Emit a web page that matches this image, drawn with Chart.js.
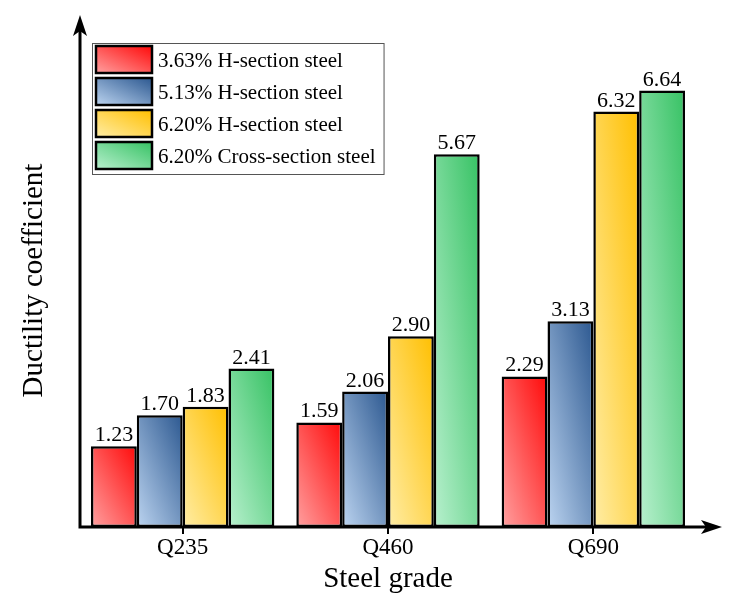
<!DOCTYPE html>
<html>
<head>
<meta charset="utf-8">
<script src="https://cdn.jsdelivr.net/npm/chart.js@4"></script>
<style>
  html, body { margin: 0; padding: 0; background: #fff; }
  #wrap { width: 734px; height: 608px; }
</style>
</head>
<body>
<div id="wrap"><canvas id="chart" width="734" height="608"></canvas></div>
<script>
const grades = ['Q235', 'Q460', 'Q690'];
const seriesNames = ['3.63% H-section steel', '5.13% H-section steel', '6.20% H-section steel', '6.20% Cross-section steel'];
const h363 = [1.23, 1.59, 2.29];
const h513 = [1.70, 2.06, 3.13];
const h620 = [1.83, 2.90, 6.32];
const cross620 = [2.41, 5.67, 6.64];

// light (bottom-left) -> saturated (top-right)
const fills = [
  ['#ffa0a0', '#ff0a0a'],
  ['#bcd4f0', '#2c5890'],
  ['#ffeda6', '#ffbf00'],
  ['#b8f0ce', '#37c264']
];

const serif = 'Liberation Serif';

// gradient in the box's own normalised space: corners bottom-left -> top-right
function boxGradient(ctx, x0, y0, w, h, pair) {
  const k = 2 * w * h / (w * w + h * h);
  const g = ctx.createLinearGradient(x0, y0 + h, x0 + h * k, y0 + h - w * k);
  g.addColorStop(0, pair[0]);
  g.addColorStop(1, pair[1]);
  return g;
}

const gradientBars = {
  id: 'gradientBars',
  beforeDatasetsDraw(chart) {
    const ctx = chart.ctx;
    chart.data.datasets.forEach((ds, i) => {
      chart.getDatasetMeta(i).data.forEach(bar => {
        const p = bar.getProps(['x', 'y', 'base', 'width'], true);
        bar.options.backgroundColor = boxGradient(ctx, p.x - p.width / 2, p.y, p.width, p.base - p.y, fills[i]);
      });
    });
  },
  afterDatasetsDraw(chart) {
    const ctx = chart.ctx;
    const area = chart.chartArea;
    ctx.save();
    // value labels
    ctx.fillStyle = '#000';
    ctx.font = '22px "' + serif + '"';
    ctx.textAlign = 'center';
    ctx.textBaseline = 'alphabetic';
    chart.data.datasets.forEach((ds, i) => {
      chart.getDatasetMeta(i).data.forEach((bar, j) => {
        ctx.fillText(ds.data[j].toFixed(2), bar.x, bar.y - 5);
      });
    });

    // axes with arrows
    const ax = area.left, ay = area.bottom;
    ctx.strokeStyle = '#000';
    ctx.fillStyle = '#000';
    ctx.lineWidth = 3;
    ctx.beginPath();
    ctx.moveTo(ax, ay + 1.5);
    ctx.lineTo(ax, 30);
    ctx.moveTo(ax - 1.5, ay);
    ctx.lineTo(706, ay);
    ctx.stroke();

    ctx.beginPath();
    ctx.moveTo(ax, 15);
    ctx.lineTo(ax + 7, 36);
    ctx.lineTo(ax, 31);
    ctx.lineTo(ax - 7, 36);
    ctx.closePath();
    ctx.fill();

    ctx.beginPath();
    ctx.moveTo(722, ay);
    ctx.lineTo(701, ay - 7);
    ctx.lineTo(706, ay);
    ctx.lineTo(701, ay + 7);
    ctx.closePath();
    ctx.fill();

    // category ticks
    const xs = chart.scales.x;
    ctx.lineWidth = 2;
    ctx.beginPath();
    grades.forEach((g, j) => {
      const px = Math.round(xs.getPixelForValue(j));
      ctx.moveTo(px, ay);
      ctx.lineTo(px, ay + 7);
    });
    ctx.stroke();

    // legend box
    const left = 92, top = 43, rowH = 32;
    ctx.font = '21px "' + serif + '"';
    ctx.textAlign = 'left';
    ctx.textBaseline = 'middle';
    let maxW = 0;
    chart.data.datasets.forEach(ds => { maxW = Math.max(maxW, ctx.measureText(ds.label).width); });
    const textX = 158;
    ctx.fillStyle = '#fff';
    ctx.fillRect(left, top, textX + maxW + 8 - left, rowH * 4 + 3);
    ctx.strokeStyle = '#555';
    ctx.lineWidth = 1;
    ctx.strokeRect(left + 0.5, top + 0.5, textX + maxW + 8 - left, rowH * 4 + 3);
    chart.data.datasets.forEach((ds, i) => {
      const sy = top + 3 + i * rowH;
      ctx.fillStyle = boxGradient(ctx, 96, sy, 56, 27, fills[i]);
      ctx.fillRect(96, sy, 56, 27);
      ctx.strokeStyle = '#000';
      ctx.lineWidth = 2.5;
      ctx.strokeRect(96, sy, 56, 27);
      ctx.fillStyle = '#000';
      ctx.fillText(ds.label, textX, sy + 15);
    });
    ctx.restore();
  }
};

const barStyle = {
  backgroundColor: () => '#cccccc',
  borderColor: '#000',
  borderWidth: 2.5,
  borderSkipped: false,
  categoryPercentage: 0.893,
  barPercentage: 1.0
};

new Chart(document.getElementById('chart'), {
  type: 'bar',
  data: {
    labels: grades,
    datasets: [
      { label: seriesNames[0], data: h363, ...barStyle },
      { label: seriesNames[1], data: h513, ...barStyle },
      { label: seriesNames[2], data: h620, ...barStyle },
      { label: seriesNames[3], data: cross620, ...barStyle }
    ]
  },
  options: {
    responsive: false,
    animation: false,
    layout: { padding: { top: 34, right: 38, left: 0, bottom: 0 } },
    plugins: {
      legend: { display: false },
      tooltip: { enabled: false }
    },
    scales: {
      x: {
        grid: { display: false, drawTicks: false },
        border: { display: false },
        ticks: { color: '#000', font: { family: serif, size: 23 }, padding: 7 },
        title: { display: true, text: 'Steel grade', color: '#000', font: { family: serif, size: 29 }, padding: { top: 0, bottom: 11 } },
        afterFit(scale) { scale.height = 81; }
      },
      y: {
        min: 0,
        max: 7.5,
        grid: { display: false, drawTicks: false },
        border: { display: false },
        ticks: { display: false },
        title: { display: true, text: 'Ductility coefficient', color: '#000', font: { family: serif, size: 29 }, padding: { top: 17, bottom: 0 } },
        afterFit(scale) { scale.width = 80; }
      }
    }
  },
  plugins: [gradientBars]
});
</script>
</body>
</html>
